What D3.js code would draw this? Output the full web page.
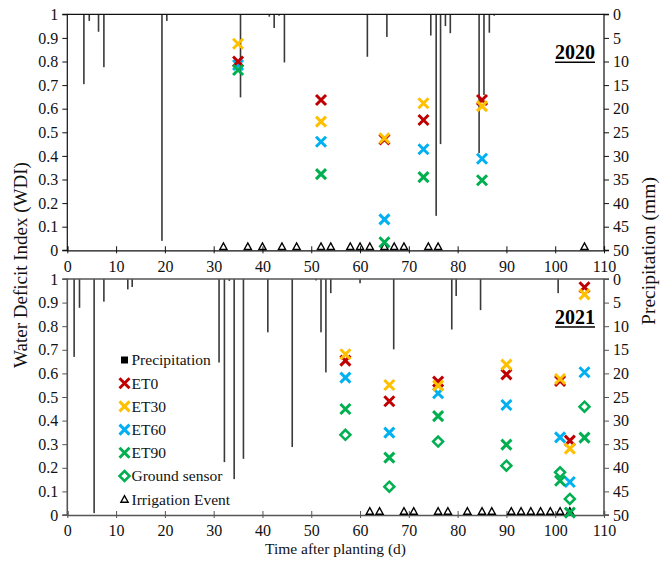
<!DOCTYPE html>
<html><head><meta charset="utf-8">
<script src="https://cdn.jsdelivr.net/npm/d3@7"></script>
<style>
html,body{margin:0;padding:0;background:#fff;}
svg{display:block;}
</style></head>
<body>
<svg id="chart" width="669" height="587"></svg>
<script>
// ---------------- DATA ----------------
const years = ["2020", "2021"];
const xTicks = [0,10,20,30,40,50,60,70,80,90,100,110];
const wdiTicks = [0,0.1,0.2,0.3,0.4,0.5,0.6,0.7,0.8,0.9,1];
const precipTicks = [0,5,10,15,20,25,30,35,40,45,50];

// Precipitation 2020 (day, mm)
const precipDays2020 = [3.4,4.5,6.4,7.5,19.4,20.4,35.5,41.4,42.4,43.4,44.5,61.5,65.5,74.5,75.6,76.5,77.5,78.5,84.4,85.4,86.5,87.5];
const precipMm2020   = [14.8,1.4,3.7,11.2,48,1.4,17.6,0.5,2.9,0.3,10.2,9,4.8,4.5,42.7,27.5,2.5,4,29.4,17.1,3.9,0.3];
// Precipitation 2021
const precipDays2021 = [1.4,2.5,5.5,7.5,12.4,13.3,31.1,32.2,33.2,34.2,36.1,41.1,46.1,51.0,52.0,53.0,54.0,60.0,66.9,78.8,79.7,84.7,100.6];
const precipMm2021   = [16.5,6.1,49.6,4.8,2.2,1.7,17.7,38.8,0.4,42.4,38.1,11.3,35.6,0.3,11.3,19.8,3.0,0.9,14.9,10.7,3.6,6.6,3.0];

// WDI 2020
const days2020 = [35,52,65,73,85];
const et0_2020  = [0.800,0.637,0.470,0.552,0.637];
const et30_2020 = [0.875,0.545,0.475,0.623,0.611];
const et60_2020 = [0.785,0.460,0.131,0.428,0.388];
const et90_2020 = [0.764,0.323,0.034,0.310,0.297];
const irrigation2020 = [32,37,40,44,47,52,54,58,60,62,65,67,69,74,76,106];

// WDI 2021
const days2021 = [57,66,76,90,101,103,106];
const et0_2021  = [0.654,0.482,0.565,0.596,0.568,0.315,0.965];
const et30_2021 = [0.681,0.551,0.548,0.637,0.576,0.281,0.935];
const et60_2021 = [0.582,0.349,0.516,0.466,0.329,0.140,0.605];
const et90_2021 = [0.449,0.243,0.419,0.298,0.145,0.010,0.328];
const ground2021 = [0.340,0.120,0.311,0.209,0.181,0.068,0.459];
const irrigation2021 = [62,64,69,71,76,78,82,85,87,91,93,95,97,99,101,103];

const seriesColors = {ET0:"#C00000", ET30:"#FFC000", ET60:"#00B0F0", ET90:"#00B050", GS:"#00B050"};

// --------------- LAYOUT ---------------
const FONT = "Liberation Serif";
const svg = d3.select("#chart");
const X0 = 67.3, X1 = 604;
const x = d3.scaleLinear().domain([0,110]).range([X0, X1]);
const panels = [
  {year:"2020", top:14.3, bottom:250.3, pd:precipDays2020, pm:precipMm2020, days:days2020,
   series:{ET0:et0_2020, ET30:et30_2020, ET60:et60_2020, ET90:et90_2020}, gs:null, irr:irrigation2020, legend:false, axisColor:"#111"},
  {year:"2021", top:279, bottom:515, pd:precipDays2021, pm:precipMm2021, days:days2021,
   series:{ET0:et0_2021, ET30:et30_2021, ET60:et60_2021, ET90:et90_2021}, gs:ground2021, irr:irrigation2021, legend:true, axisColor:"#555"}
];

const xPath = "M-5,-5L5,5M-5,5L5,-5";
const drawOrder = ["ET60","ET0","ET30","ET90"];

panels.forEach(p => {
  const y = d3.scaleLinear().domain([0,1]).range([p.bottom, p.top]);
  const yp = d3.scaleLinear().domain([0,50]).range([p.top, p.bottom]);
  const g = svg.append("g");

  g.append("g").selectAll("rect").data(p.pd.map((d,i)=>({d, v:p.pm[i]}))).join("rect")
    .attr("x", d => x(d.d) - 0.8).attr("width", 1.6)
    .attr("y", yp(0)).attr("height", d => yp(d.v) - yp(0))
    .attr("fill", "#3a3a3a");

  g.append("line").attr("x1", X0).attr("x2", X1).attr("y1", p.top).attr("y2", p.top)
    .attr("stroke", p.axisColor).attr("stroke-width", p.year==="2021"?1.6:1.2);

  const la = g.append("g").attr("transform", `translate(${X0},0)`)
    .call(d3.axisLeft(y).tickValues(wdiTicks).tickSize(5).tickPadding(4).tickFormat(d3.format("")));
  const ra = g.append("g").attr("transform", `translate(${X1},0)`)
    .call(d3.axisRight(yp).tickValues(precipTicks).tickSize(5).tickPadding(4));
  const ba = g.append("g").attr("transform", `translate(0,${p.bottom})`)
    .call(d3.axisBottom(x).tickValues(xTicks).tickSize(-4).tickPadding(10));
  ba.selectAll(".tick line").attr("y2", -4).attr("y1", 3);
  [la,ra,ba].forEach(a => {
    a.select(".domain").attr("stroke", p.axisColor).attr("stroke-width", p.year==="2021"?1.6:1.2);
    a.selectAll(".tick line").attr("stroke", p.axisColor);
    a.selectAll("text").style("font-family", FONT).style("font-size", "16px").attr("fill", "#111");
  });
  ra.select(".domain").attr("d", `M5,${p.top}H0V${p.bottom}H5`);
  la.select(".domain").attr("d", `M-5,${p.top}H0V${p.bottom}H-5`);

  g.append("g").selectAll("path").data(p.irr).join("path")
    .attr("transform", d => `translate(${x(d)},${p.bottom - 0.8})`)
    .attr("d", "M-3.6,0L3.6,0L0,-6.5Z")
    .attr("fill", "none").attr("stroke", "#000").attr("stroke-width", 1.4);

  drawOrder.forEach(name => {
    g.append("g").selectAll("path").data(p.days.map((d,i)=>({d, v:p.series[name][i]}))).join("path")
      .attr("transform", d => `translate(${x(d.d)},${y(d.v)})`)
      .attr("d", xPath).attr("fill", "none")
      .attr("stroke", seriesColors[name]).attr("stroke-width", 3);
  });
  if (p.gs) {
    g.append("g").selectAll("path").data(p.days.map((d,i)=>({d, v:p.gs[i]}))).join("path")
      .attr("transform", d => `translate(${x(d.d)},${y(d.v)})`)
      .attr("d", "M0,-5L5,0L0,5L-5,0Z").attr("fill", "#fff")
      .attr("stroke", seriesColors.GS).attr("stroke-width", 2.5);
  }

  g.append("text").attr("x", 595).attr("y", p.top + 45)
    .attr("text-anchor", "end").style("font-size", "20px").style("font-weight", "bold")
    .style("font-family", FONT).attr("fill", "#000").text(p.year);
  g.append("line").attr("x1", 555).attr("x2", 595)
    .attr("y1", p.top + 48).attr("y2", p.top + 48).attr("stroke", "#000").attr("stroke-width", 1.5);

  if (p.legend) {
    const items = [
      {label:"Precipitation", type:"sq"},
      {label:"ET0", type:"x", c:seriesColors.ET0},
      {label:"ET30", type:"x", c:seriesColors.ET30},
      {label:"ET60", type:"x", c:seriesColors.ET60},
      {label:"ET90", type:"x", c:seriesColors.ET90},
      {label:"Ground sensor", type:"d", c:seriesColors.GS},
      {label:"Irrigation Event", type:"t"}
    ];
    const lg = g.append("g");
    items.forEach((it,i) => {
      const cy = 360 + i*23.2, cx = 124.5;
      if (it.type==="sq") lg.append("rect").attr("x", cx-3.5).attr("y", cy-3.5).attr("width",7).attr("height",7).attr("fill","#000");
      if (it.type==="x") lg.append("path").attr("transform",`translate(${cx},${cy})`).attr("d",xPath).attr("stroke",it.c).attr("stroke-width",3).attr("fill","none");
      if (it.type==="d") lg.append("path").attr("transform",`translate(${cx},${cy})`).attr("d","M0,-5L5,0L0,5L-5,0Z").attr("stroke",it.c).attr("stroke-width",2.5).attr("fill","#fff");
      if (it.type==="t") lg.append("path").attr("transform",`translate(${cx},${cy+3})`).attr("d","M-3.6,0L3.6,0L0,-6.5Z").attr("stroke","#000").attr("stroke-width",1.4).attr("fill","none");
      lg.append("text").attr("x", 131.5).attr("y", cy).attr("dy","0.35em")
        .style("font-size", "15.5px").style("font-family", FONT).attr("fill","#111").text(it.label);
    });
  }
});

svg.append("text").attr("transform", "translate(27,265) rotate(-90)")
  .attr("text-anchor","middle").style("font-size","19px").style("font-family", FONT).attr("fill","#111").text("Water Deficit Index (WDI)");
svg.append("text").attr("transform", "translate(655,251) rotate(-90)")
  .attr("text-anchor","middle").style("font-size","19.5px").style("font-family", FONT).attr("fill","#111").text("Precipitation (mm)");
svg.append("text").attr("x", 335.5).attr("y", 554)
  .attr("text-anchor","middle").style("font-size","15.5px").style("font-family", FONT).attr("fill","#111").text("Time after planting (d)");
</script>
</body></html>
